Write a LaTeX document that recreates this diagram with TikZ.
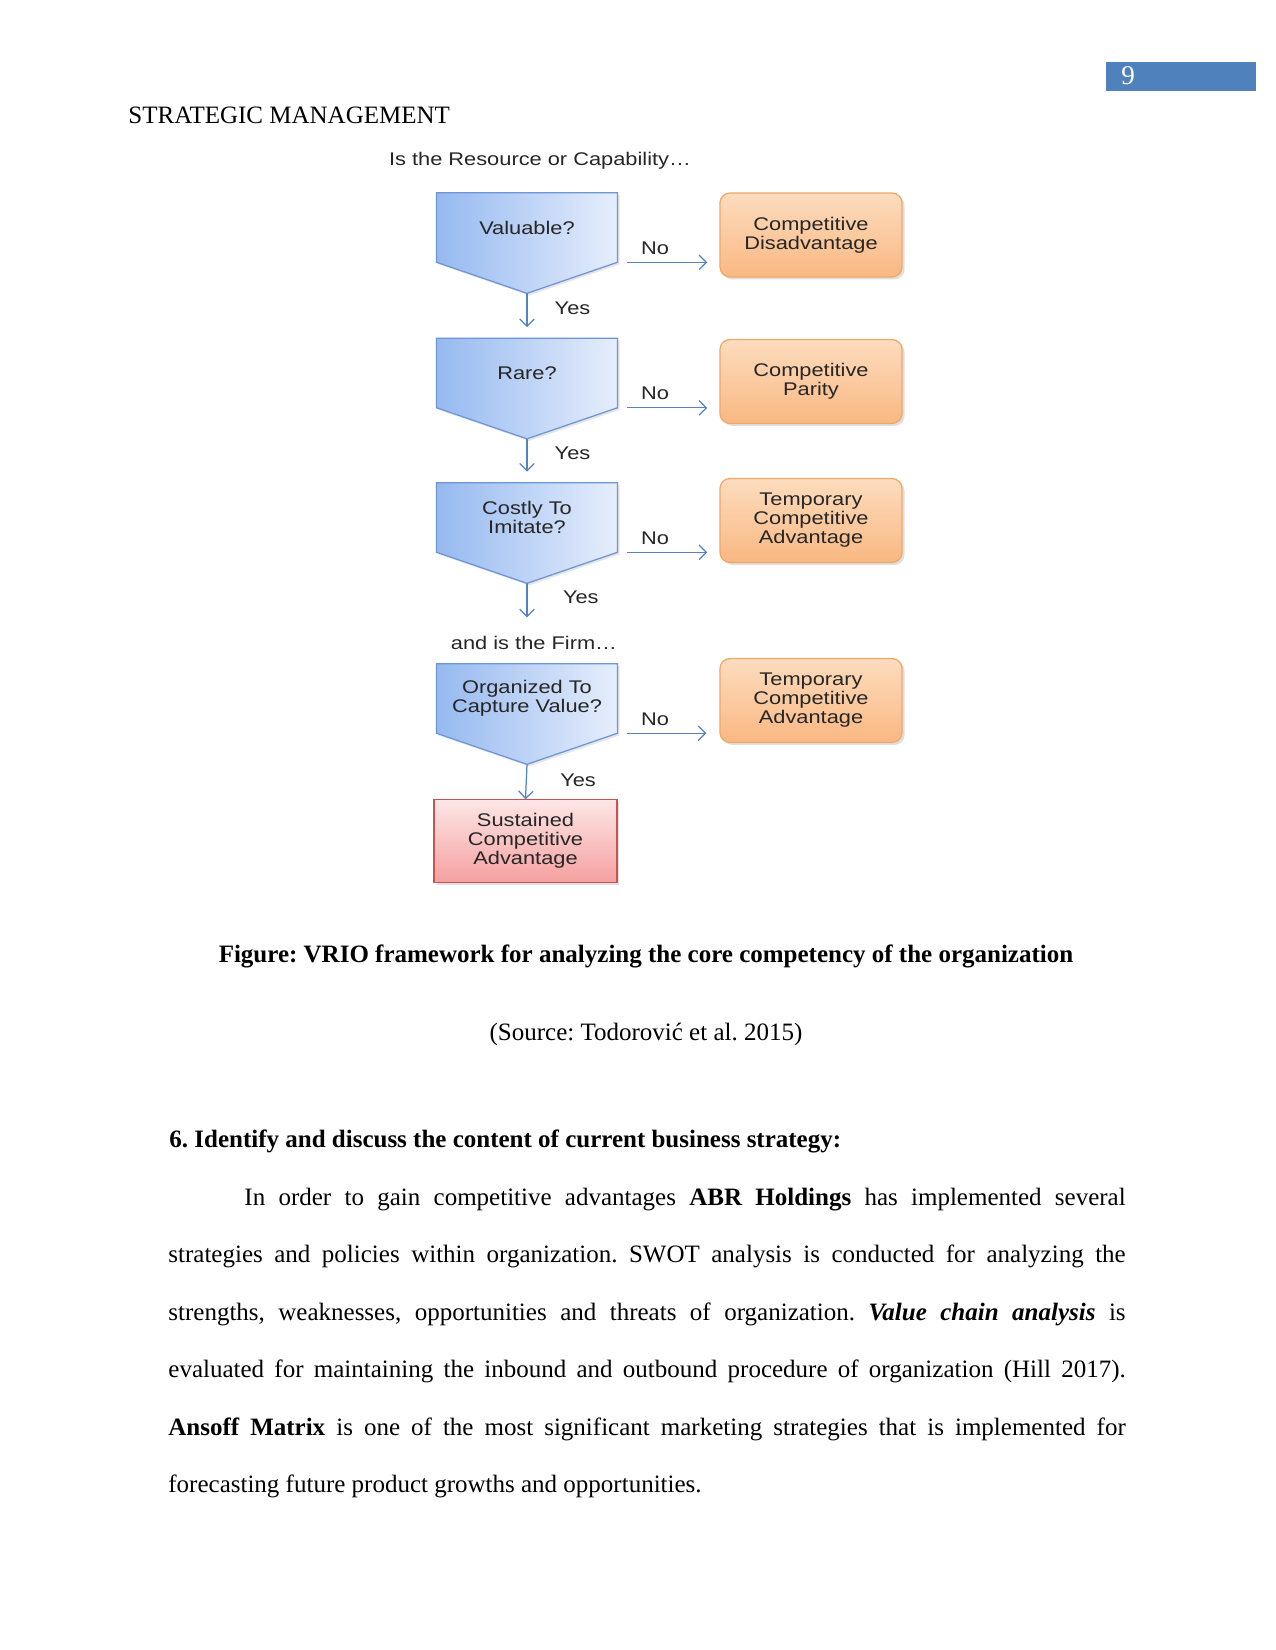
\documentclass[tikz,border=0pt]{standalone}
\usepackage{fontspec}
\setmainfont{Liberation Serif}
\newfontfamily\diagfont[FakeStretch=1.19]{Liberation Sans}
\usepackage{xcolor}
\usepackage{tikz}
\usetikzlibrary{arrows.meta, positioning, backgrounds, shadows}
\definecolor{pageblue}{RGB}{79, 129, 189}
\definecolor{qdark}{RGB}{150, 185, 240}
\definecolor{qlight}{RGB}{230, 238, 252}
\definecolor{qborder}{RGB}{110, 150, 215}
\definecolor{otop}{RGB}{253, 220, 190}
\definecolor{obottom}{RGB}{249, 184, 130}
\definecolor{oborder}{RGB}{240, 168, 105}
\definecolor{ptop}{RGB}{253, 230, 230}
\definecolor{pbottom}{RGB}{245, 160, 160}
\definecolor{pborder}{RGB}{195, 85, 85}
\definecolor{flowblue}{RGB}{85, 130, 195}
\definecolor{diagtext}{RGB}{38, 38, 38}
\frenchspacing

\begin{document}
\begin{tikzpicture}[x=0.48pt, y=-0.48pt,
    diag/.style={font=\diagfont\fontsize{8.8}{9.1}\selectfont, text=diagtext, align=center},
    question/.style={diag, minimum width=86.4pt, minimum height=33pt, inner sep=0pt},
    qshape/.style={draw=qborder, left color=qdark, right color=qlight, line width=0.6pt,
                   drop shadow={opacity=0.2, shadow xshift=1pt, shadow yshift=-1pt}},
    outcome/.style={diag, draw=oborder, top color=otop, bottom color=obottom,
                    rounded corners=4.8pt, minimum width=87.4pt, minimum height=40.3pt,
                    inner sep=0pt, line width=0.6pt,
                    drop shadow={opacity=0.25, shadow xshift=1.2pt, shadow yshift=-1.2pt}},
    result/.style={diag, draw=pborder, top color=ptop, bottom color=pbottom,
                   minimum width=87.8pt, minimum height=39.5pt, inner sep=0pt, line width=0.6pt,
                   drop shadow={opacity=0.25, shadow xshift=1.2pt, shadow yshift=-1.2pt}},
    flow/.style={draw=flowblue, line width=0.6pt, -{Straight Barb[length=3.5pt, width=7pt]}},
    answer/.style={diag, inner sep=1pt},
    body/.style={font=\fontsize{12}{27.6}\selectfont, inner sep=0pt}
]
    \useasboundingbox (0,0) rectangle (1275,1650);
    \begin{scope}[on background layer]
        \fill[white] (0,0) rectangle (1275,1650);
    \end{scope}

    % Page head
    \node[fill=pageblue, minimum width=72pt, minimum height=13.9pt, inner sep=0pt,
          anchor=north west] (pagebox) at (1106,62) {};
    \node[text=white, font=\fontsize{13}{15}\selectfont, inner sep=0pt,
          anchor=base west] (pagenum) at (1121,85) {9};
    \node[body, anchor=base west] (runninghead) at (128,124) {STRATEGIC MANAGEMENT};

    % VRIO chart - questions
    \node[diag] (resource) at (540,161) {Is the Resource or Capability…};
    \node[question] (valuable) at (527,227.5) {Valuable?};
    \node[question] (rare) at (527,373) {Rare?};
    \node[question] (costly) at (527,517.5) {Costly To\\Imitate?};
    \node[diag] (firm) at (534,643) {and is the Firm…};
    \node[question] (organized) at (527,698.5) {Organized To\\Capture Value?};

    \coordinate (valuable tip) at ([yshift=-14.9pt]valuable.south);
    \coordinate (rare tip) at ([yshift=-14.9pt]rare.south);
    \coordinate (costly tip) at ([yshift=-14.9pt]costly.south);
    \coordinate (organized tip) at ([yshift=-14.9pt]organized.south);
    \coordinate (costly end) at ([yshift=-16.3pt]costly tip);

    \begin{scope}[on background layer]
        \foreach \q in {valuable,rare,costly,organized}
            \shade[qshape] (\q.north west) -- (\q.north east) -- (\q.south east)
                -- (\q\space tip) -- (\q.south west) -- cycle;
    \end{scope}

    % Outcomes
    \node[outcome] (disadvantage) at (811,235) {Competitive\\Disadvantage};
    \node[outcome] (parity) at (811,381.5) {Competitive\\Parity};
    \node[outcome] (temporary) at (811,520.5) {Temporary\\Competitive\\Advantage};
    \node[outcome] (temporary2) at (811,700.5) {Temporary\\Competitive\\Advantage};
    \node[result] (sustained) at (525.5,841) {Sustained\\Competitive\\Advantage};

    % Yes arrows
    \draw[flow, shorten >=5.3pt] (valuable tip) -- (rare.north)
        node[answer, pos=0.33, right=12pt] {Yes};
    \draw[flow, shorten >=5.3pt] (rare tip) -- (costly.north)
        node[answer, pos=0.33, right=12pt] {Yes};
    \draw[flow] (costly tip) -- (costly end)
        node[answer, pos=0.41, right=16pt] {Yes};
    \draw[flow] (organized tip) -- (sustained.north)
        node[answer, pos=0.46, right=15pt] {Yes};

    % No arrows
    \draw[flow, shorten <=4.8pt, shorten >=5.8pt] (valuable.south east)
        -- (valuable.south east -| disadvantage.west)
        node[answer, pos=0.37, above=2.5pt] {No};
    \draw[flow, shorten <=4.8pt, shorten >=5.8pt] (rare.south east)
        -- (rare.south east -| parity.west)
        node[answer, pos=0.37, above=2.5pt] {No};
    \draw[flow, shorten <=4.8pt, shorten >=5.8pt] (costly.south east)
        -- (costly.south east -| temporary.west)
        node[answer, pos=0.37, above=2.5pt] {No};
    \draw[flow, shorten <=4.5pt, shorten >=6.2pt] (organized.south east)
        -- (organized.south east -| temporary2.west)
        node[answer, pos=0.37, above=2.5pt] {No};

    % Caption and text
    \node[body, font=\bfseries\fontsize{12}{14}\selectfont, anchor=base] (caption) at (646,962)
        {Figure: VRIO framework for analyzing the core competency of the organization};
    \node[body, anchor=base] (source) at (646,1040) {(Source: Todorović et al. 2015)};
    \node[body, font=\bfseries\fontsize{12}{14}\selectfont, anchor=base west] (heading) at (169,1147)
        {6. Identify and discuss the content of current business strategy:};
    \node[body, text width=459.5pt, align=justify, anchor=base west] (para) at (168,1205) {%
        \hspace*{36.5pt}In order to gain competitive advantages \textbf{ABR Holdings} has implemented several\linebreak
        strategies and policies within organization. SWOT analysis is conducted for analyzing the\linebreak
        strengths, weaknesses, opportunities and threats of organization. \textbf{\textit{Value chain analysis}} is\linebreak
        evaluated for maintaining the inbound and outbound procedure of organization (Hill 2017).\linebreak
        \textbf{Ansoff Matrix} is one of the most significant marketing strategies that is implemented for\linebreak
        forecasting future product growths and opportunities.};
\end{tikzpicture}
\end{document}
